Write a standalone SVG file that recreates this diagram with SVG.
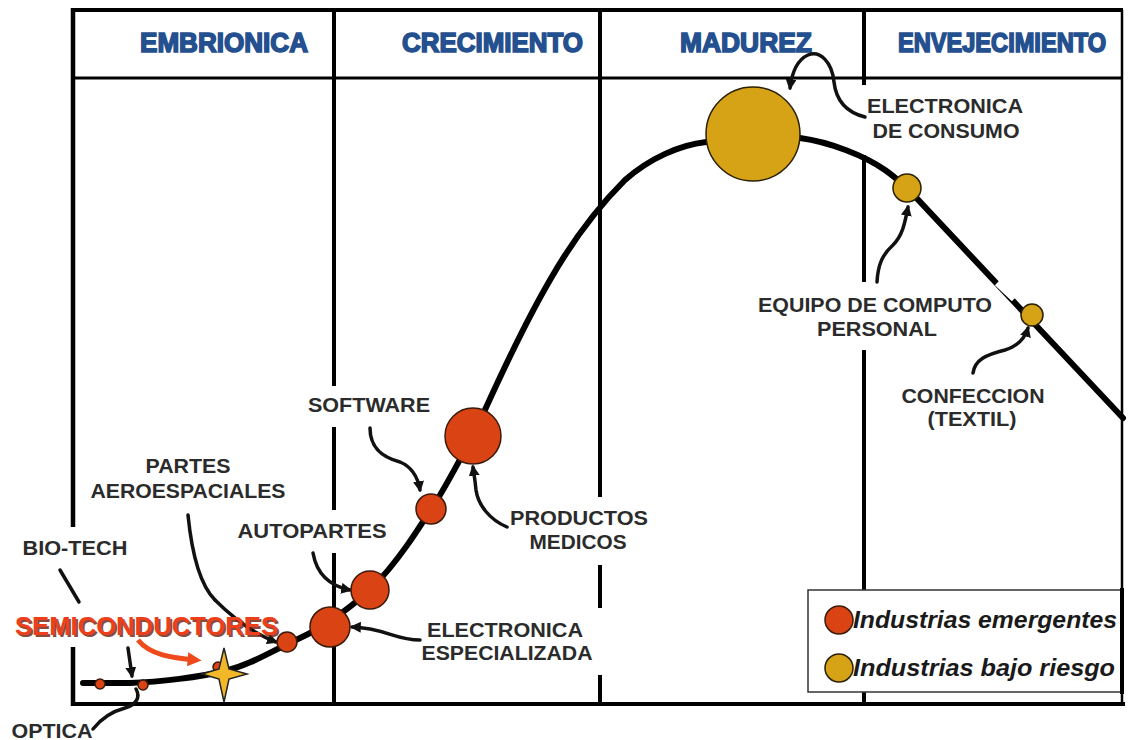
<svg xmlns="http://www.w3.org/2000/svg" width="1128" height="740" viewBox="0 0 1128 740">
<defs>
<style>
.frame{stroke:#000;fill:none}
.hdr{font-family:"Liberation Sans",Arial,sans-serif;font-weight:bold;font-size:27px;fill:#24508f;stroke:#24508f;stroke-width:1.6px}
.lbl{font-family:"Liberation Sans",Arial,sans-serif;font-weight:bold;font-size:20px;fill:#2b2b2b;text-anchor:middle}
.leg{font-family:"Liberation Sans",Arial,sans-serif;font-weight:bold;font-style:italic;font-size:23px;fill:#1a1a1a}
.red{fill:#da4314;stroke:#3a1a0a;stroke-width:1.5}
.gold{fill:#d6a216;stroke:#2a2000;stroke-width:1.5}
.con{fill:none;stroke:#111;stroke-width:3.5;stroke-linecap:round}
</style>
<marker id="ah" viewBox="0 0 10 10" refX="8" refY="5" markerWidth="11" markerHeight="11" markerUnits="userSpaceOnUse" orient="auto">
<path d="M0,0 L10,5 L0,10 z" fill="#111"/>
</marker>
<marker id="ahr" viewBox="0 0 10 10" refX="6" refY="5" markerWidth="14" markerHeight="14" markerUnits="userSpaceOnUse" orient="auto">
<path d="M0,0 L10,5 L0,10 z" fill="#ee4a1c"/>
</marker>
</defs>
<rect width="1128" height="740" fill="#fff"/>

<g id="frame" class="frame">
<line x1="71" y1="10" x2="1123" y2="10" stroke-width="4"/>
<line x1="73" y1="78" x2="1123" y2="78" stroke-width="3"/>
<line x1="71" y1="704" x2="1125" y2="704" stroke-width="4"/>
<line x1="1122" y1="10" x2="1122" y2="705" stroke-width="2.5"/>
<path d="M73 8 V527 M73 647 V706" stroke-width="4.5"/>
<path d="M334 10 V386 M334 427 V510 M334 553 V705" stroke-width="4"/>
<path d="M600 10 V497 M600 565 V608 M600 675 V705" stroke-width="4"/>
<path d="M864 10 V85 M864 155 V282 M864 350 V705" stroke-width="4"/>
</g>

<g id="headers">
<text class="hdr" x="140" y="52" textLength="168" lengthAdjust="spacingAndGlyphs">EMBRIONICA</text>
<text class="hdr" x="402" y="52" textLength="181" lengthAdjust="spacingAndGlyphs">CRECIMIENTO</text>
<text class="hdr" x="680" y="52" textLength="132" lengthAdjust="spacingAndGlyphs">MADUREZ</text>
<text class="hdr" x="0" y="0" transform="translate(898 52) scale(1 1.17)" style="font-size:23px;stroke-width:1.4px" textLength="208" lengthAdjust="spacingAndGlyphs">ENVEJECIMIENTO</text>
</g>

<g id="curve">
<path d="M83 683 L130 683 C160 682 200 677 225 671 C250 665 270 652 300 638 C320 629 345 612 370 590 C398 562 418 530 440 495 C452 475 462 455 473 436 C490 400 515 340 550 280 C570 245 595 210 625 180 C650 158 680 145 706 142 L753 135 L800 138 C830 142 865 156 885 170 C895 177 900 182 907 188 L1123 418" fill="none" stroke="#000" stroke-width="6" stroke-linecap="round"/>
<line x1="999" y1="281" x2="1016" y2="297" stroke="#fff" stroke-width="12"/>
</g>

<g id="connectors">
<path class="con" d="M60 570 L79 602" stroke-width="5"/>
<path class="con" d="M128 648 L132 676" marker-end="url(#ah)"/>
<path class="con" d="M93 729 C100 720 110 712 125 708 C138 704 140 696 136 689" stroke-width="2"/>
<path d="M138 640 C150 655 172 658 196 660" fill="none" stroke="#ee4a1c" stroke-width="5" marker-end="url(#ahr)"/>
<path class="con" d="M188 515 C192 555 200 585 215 600" stroke-width="4"/>
<path class="con" d="M215 600 C235 620 255 634 276 642" stroke-width="1.6" marker-end="url(#ah)"/>
<path class="con" d="M313 553 C316 570 325 585 350 590" marker-end="url(#ah)"/>
<path class="con" d="M420 640 C395 640 385 628 352 627" marker-end="url(#ah)"/>
<path class="con" d="M370 428 C370 450 385 458 400 462 C412 467 418 478 420 490" marker-end="url(#ah)"/>
<path class="con" d="M507 527 C490 520 478 505 476 490 C475 480 474 474 473 467" marker-end="url(#ah)"/>
<path class="con" d="M865 117 C845 112 836 100 834 82 C832 62 820 50 808 55 C797 60 792 72 790 88" marker-end="url(#ah)"/>
<path class="con" d="M877 282 C878 265 882 255 893 245 C903 235 905 222 908 207" marker-end="url(#ah)"/>
<path class="con" d="M973 373 C975 360 985 355 1005 350 C1018 346 1025 338 1028 328" marker-end="url(#ah)"/>
</g>

<g id="n-optica-dots">
<circle class="red" cx="100" cy="684" r="5"/>
<circle class="red" cx="143" cy="685" r="5"/>
</g>
<g id="n-semiconductores">
<circle class="red" cx="218" cy="667" r="5"/>
<path d="M224 648 L229 669 L247 674 L229 679 L224 702 L219 679 L202 674 L219 669 Z" fill="#f2b829" stroke="#222" stroke-width="1.5"/>
</g>
<g id="n-aero"><circle class="red" cx="287" cy="642" r="10"/></g>
<g id="n-elec-esp"><circle class="red" cx="330" cy="627" r="20"/></g>
<g id="n-autopartes"><circle class="red" cx="370" cy="590" r="19"/></g>
<g id="n-software"><circle class="red" cx="431" cy="509" r="15"/></g>
<g id="n-medicos"><circle class="red" cx="473" cy="436" r="28"/></g>
<g id="n-consumo"><circle class="gold" cx="753" cy="134" r="47"/></g>
<g id="n-computo"><circle class="gold" cx="907" cy="188" r="14"/></g>
<g id="n-textil"><circle class="gold" cx="1032" cy="315" r="11"/></g>

<g id="labels">
<text class="lbl" x="945" y="113" textLength="156" lengthAdjust="spacingAndGlyphs">ELECTRONICA</text>
<text class="lbl" x="946" y="138" textLength="147" lengthAdjust="spacingAndGlyphs">DE CONSUMO</text>
<text class="lbl" x="875" y="312" textLength="234" lengthAdjust="spacingAndGlyphs">EQUIPO DE COMPUTO</text>
<text class="lbl" x="877" y="336" textLength="120" lengthAdjust="spacingAndGlyphs">PERSONAL</text>
<text class="lbl" x="973" y="403" textLength="143" lengthAdjust="spacingAndGlyphs">CONFECCION</text>
<text class="lbl" x="972" y="426" textLength="89" lengthAdjust="spacingAndGlyphs">(TEXTIL)</text>
<text class="lbl" x="369" y="412" textLength="122" lengthAdjust="spacingAndGlyphs">SOFTWARE</text>
<text class="lbl" x="579" y="525" textLength="138" lengthAdjust="spacingAndGlyphs">PRODUCTOS</text>
<text class="lbl" x="578" y="549" textLength="97" lengthAdjust="spacingAndGlyphs">MEDICOS</text>
<text class="lbl" x="505" y="637" textLength="156" lengthAdjust="spacingAndGlyphs">ELECTRONICA</text>
<text class="lbl" x="507" y="660" textLength="171" lengthAdjust="spacingAndGlyphs">ESPECIALIZADA</text>
<text class="lbl" x="312" y="538" textLength="149" lengthAdjust="spacingAndGlyphs">AUTOPARTES</text>
<text class="lbl" x="188" y="473" textLength="85" lengthAdjust="spacingAndGlyphs">PARTES</text>
<text class="lbl" x="188" y="498" textLength="195" lengthAdjust="spacingAndGlyphs">AEROESPACIALES</text>
<text class="lbl" x="75" y="555" textLength="105" lengthAdjust="spacingAndGlyphs">BIO-TECH</text>
<text class="lbl" x="52" y="738" textLength="81" lengthAdjust="spacingAndGlyphs">OPTICA</text>
<text x="17" y="637" font-family="Liberation Sans, Arial, sans-serif" font-weight="bold" font-size="25" fill="#6a2010" textLength="263" lengthAdjust="spacingAndGlyphs" opacity="0.8">SEMICONDUCTORES</text>
<text x="15" y="635" font-family="Liberation Sans, Arial, sans-serif" font-weight="bold" font-size="25" fill="#ec3f1a" textLength="263" lengthAdjust="spacingAndGlyphs">SEMICONDUCTORES</text>
</g>

<g id="legend">
<rect x="808" y="590" width="314" height="102" fill="#fff" stroke="#333" stroke-width="1.5"/>
<circle class="red" cx="839" cy="620" r="14"/>
<circle class="gold" cx="839" cy="668" r="14"/>
<text class="leg" x="853" y="628" textLength="264" lengthAdjust="spacingAndGlyphs">Industrias emergentes</text>
<text class="leg" x="853" y="676" textLength="262" lengthAdjust="spacingAndGlyphs">Industrias bajo riesgo</text>
<line x1="1122" y1="588" x2="1122" y2="694" stroke="#000" stroke-width="4"/>
</g>
</svg>
